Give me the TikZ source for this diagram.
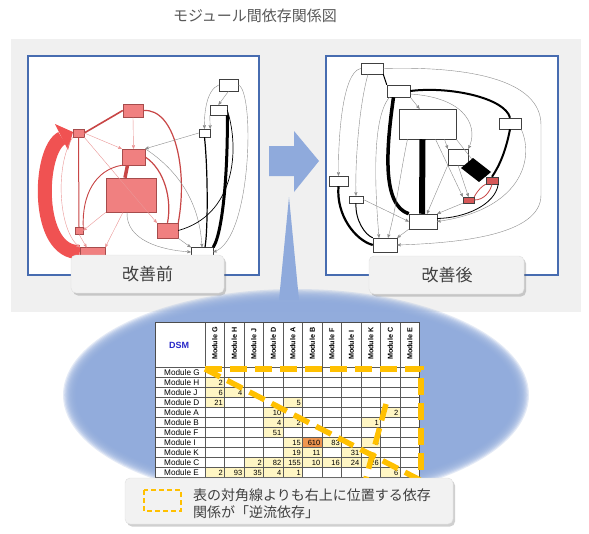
\documentclass[tikz,border=0pt]{standalone}
\usepackage{fontspec}
\setmainfont{Liberation Sans}
\newfontfamily\jpfont{Noto Sans CJK JP}
\usepackage{tikz}
\usetikzlibrary{arrows}
\definecolor{frameblue}{RGB}{71,108,176}
\definecolor{softblue}{RGB}{143,170,220}
\definecolor{panelgray}{RGB}{240,240,240}
\definecolor{boxgray}{RGB}{242,242,242}
\definecolor{titlegray}{RGB}{89,89,89}
\definecolor{textgray}{RGB}{64,64,64}
\definecolor{nodepink}{RGB}{240,128,128}
\definecolor{flowred}{RGB}{240,82,82}
\definecolor{edgered}{RGB}{200,70,70}
\definecolor{edgepink}{RGB}{235,150,150}
\definecolor{nodered}{RGB}{214,88,88}
\definecolor{dashyellow}{RGB}{255,192,0}
\definecolor{cellyellow}{RGB}{255,246,196}
\definecolor{cellorange}{RGB}{240,150,80}
\definecolor{dsmblue}{RGB}{40,40,200}
\tikzset{
    gnode/.style = {rectangle, inner sep=0pt, draw=black!75, line width=0.5pt},
    pink_node/.style = {gnode, fill=nodepink, draw=black!50!red!70},
    white_node/.style = {gnode, fill=white},
    red_node/.style = {gnode, fill=nodered},
    thin_edge/.style = {->, draw=black!45, line width=0.4pt},
    pink_edge/.style = {->, draw=edgepink, line width=0.4pt},
    red_edge/.style = {draw=edgered, line width=1.2pt},
    black_edge/.style = {draw=black, line width=1.2pt},
    flow_band/.style = {draw=flowred, line width=14pt},
    frame/.style = {draw=frameblue, line width=2.6pt, fill=white},
    tag/.style = {rounded corners=5pt, fill=boxgray, draw=black!12, line width=0.4pt},
    tag_shadow/.style = {rounded corners=5pt, fill=black!60, opacity=0.3},
    tag_text/.style = {font=\jpfont\fontsize{17pt}{20pt}\selectfont, text=textgray},
    grid_line/.style = {draw=black!65, line width=0.55pt},
    col_head/.style = {font=\bfseries\fontsize{7.2pt}{8pt}\selectfont, inner sep=0pt, rotate=90, anchor=west},
    row_head/.style = {font=\fontsize{8.2pt}{9pt}\selectfont, inner sep=0pt, anchor=west},
    cell/.style = {font=\fontsize{7.5pt}{8pt}\selectfont, inner sep=0pt, anchor=east},
    yellow_dash/.style = {draw=dashyellow, line width=5.5pt, dash pattern=on 17pt off 8pt}
}
\begin{document}
\begin{tikzpicture}[x=1pt, y=-1pt, >=stealth']
    \fill[white] (0,0) rectangle (589,533);
    \useasboundingbox (0,0) rectangle (589,533);

    \node[font=\jpfont\fontsize{15pt}{18pt}\selectfont, text=titlegray] (title) at (255,16) {モジュール間依存関係図};

    \fill[panelgray] (11,39) rectangle (581,312);
    \draw[frame] (28,56) rectangle (259,275);
    \draw[frame] (326,56) rectangle (558,275);

    \node[white_node, minimum width=19pt, minimum height=12pt] (lb1) at (228.5,85) {};
    \node[white_node, minimum width=17pt, minimum height=10pt] (lb2) at (218.5,110) {};
    \node[white_node, minimum width=11pt, minimum height=8pt] (lb3) at (204.5,133) {};
    \node[pink_node, minimum width=20pt, minimum height=13pt] (lF) at (133,110.5) {};
    \node[pink_node, minimum width=11pt, minimum height=8pt] (lE) at (78.5,133) {};
    \node[pink_node, minimum width=23pt, minimum height=16pt] (lM) at (133.5,157) {};
    \node[pink_node, minimum width=50pt, minimum height=34pt] (lA) at (131,195) {};
    \node[pink_node, minimum width=21pt, minimum height=15pt] (lD) at (167.5,230.5) {};
    \node[pink_node, minimum width=8pt, minimum height=7pt] (lS) at (79,230.5) {};
    \node[pink_node, minimum width=25pt, minimum height=9pt] (lB) at (92.5,252) {};
    \node[white_node, minimum width=22pt, minimum height=9pt] (lW) at (202,252) {};

    \draw[flow_band] (lB.west) .. controls (35,254) and (38,150) .. (62,138);
    \fill[flowred] (55,124) -- (73,132) -- (68,150) -- cycle;
    \draw[red_edge, line width=1.6pt] (lF.west) -- (lE.east);
    \draw[pink_edge] (lF.south) -- (lM.north);
    \draw[red_edge] (lF.east) .. controls (175,108) and (188,170) .. (lD.north east);
    \draw[pink_edge] (lE.east) -- (lM.north west);
    \draw[pink_edge] (lE.south east) -- (lD.north west);
    \draw[red_edge, line width=1pt] (lE.south) -- (lS.north);
    \draw[pink_edge] (lE.south west) .. controls (55,165) and (58,230) .. (lB.north west);
    \draw[red_edge, line width=3.5pt] ([xshift=-6pt]lM.south) -- ([xshift=-6pt]lA.north);
    \draw[red_edge] (lM.east) .. controls (165,170) and (172,200) .. (lD.north);
    \draw[red_edge, line width=0.9pt] (lM.south west) .. controls (95,170) and (82,195) .. (lS.north east);
    \draw[pink_edge] (lA.south west) -- (lS.east);
    \draw[pink_edge] ([xshift=-8pt]lA.south) -- (lB.north east);
    \draw[pink_edge] (lS.south) -- ([xshift=-6pt]lB.north);
    \draw[thin_edge] ([xshift=-4pt]lA.south) .. controls (126,240) and (160,250) .. (lW.west);
    \draw[thin_edge] (lD.south east) -- (lW.north west);
    \draw[thin_edge] (lM.north east) .. controls (185,175) and (200,210) .. (lW.north);
    \draw[thin_edge] (lb1.south) -- (lb2.north);
    \draw[thin_edge] (lb1.west) .. controls (206,90) and (204,115) .. (lb3.north);
    \draw[thin_edge] (lb1.east) .. controls (255,90) and (252,240) .. (lW.east);
    \draw[black_edge, line width=3pt] (lb2.south east) .. controls (228,160) and (224,230) .. (lW.north east);
    \draw[thin_edge] (lb2.south west) -- (lb3.north east);
    \draw[black_edge] (lb3.south) .. controls (208,170) and (208,230) .. ([xshift=3pt]lW.north);
    \draw[thin_edge] (lb3.west) -- (lM.north east);
    \draw[black_edge, line width=0.7pt] (lb2.east) .. controls (240,150) and (235,215) .. (lD.east);

    \node[white_node, minimum width=22pt, minimum height=11pt] (rn1) at (372,68.5) {};
    \node[white_node, minimum width=23pt, minimum height=12pt] (rn2) at (398.5,91) {};
    \node[white_node, minimum width=57pt, minimum height=30pt] (rA) at (427.5,124) {};
    \node[white_node, minimum width=22pt, minimum height=11pt] (rn3) at (510,123.5) {};
    \node[white_node, minimum width=20pt, minimum height=16pt] (rn4) at (458,157) {};
    \node[white_node, minimum width=19pt, minimum height=10pt] (rn5) at (338.5,181) {};
    \node[white_node, minimum width=14pt, minimum height=7pt] (rn6) at (356,199.5) {};
    \node[red_node, minimum width=12pt, minimum height=7pt] (rr1) at (492,180.5) {};
    \node[red_node, minimum width=11pt, minimum height=6pt] (rr2) at (468.5,200) {};
    \node[white_node, minimum width=28pt, minimum height=15pt] (rn7) at (423,221.5) {};
    \node[white_node, minimum width=24pt, minimum height=14pt] (rn8) at (385,245) {};

    \draw[black_edge, line width=1pt] (rn1.south east) -- (rn2.north west);
    \draw[thin_edge] (rn1.west) .. controls (342,72) and (338,140) .. (rn5.north);
    \draw[thin_edge] ([xshift=-4pt]rn1.south) .. controls (358,110) and (355,170) .. (rn6.north);
    \draw[thin_edge] (rn1.east) .. controls (470,66) and (541,80) .. (541,125) -- (541,195) .. controls (541,235) and (460,243) .. (rn8.east);
    \draw[black_edge, line width=2pt] (rn2.east) .. controls (450,86) and (505,98) .. (rn3.north);
    \draw[thin_edge] (rn2.south east) -- ([xshift=-8pt]rA.north);
    \draw[thin_edge] ([yshift=-3pt]rn2.east) .. controls (470,98) and (478,130) .. (rn4.north east);
    \draw[black_edge, line width=3.5pt] ([xshift=-5pt]rn2.south) .. controls (386,150) and (382,205) .. (rn7.north west);
    \draw[thin_edge] ([xshift=-9pt]rn2.south) .. controls (370,120) and (376,200) .. ([xshift=-6pt]rn8.north);
    \draw[black_edge, line width=6pt] ([xshift=-5pt]rA.south) -- ([xshift=-1pt]rn7.north);
    \draw[thin_edge] ([xshift=-20pt]rA.south) .. controls (400,175) and (396,210) .. ([xshift=3pt]rn8.north);
    \draw[thin_edge] ([xshift=17pt]rA.south) -- (rn4.north west);
    \draw[thin_edge] (rA.south east) -- (rr1.north west);
    \draw[thin_edge] ([xshift=8pt]rA.south) -- (rr2.north west);
    \draw[thin_edge] (rn4.south west) -- ([xshift=4pt]rn7.north);
    \draw[black_edge, line width=2pt] (rn3.south) .. controls (506,150) and (500,165) .. (rr1.north);
    \draw[thin_edge] (rn3.south east) .. controls (535,160) and (520,210) .. (rn7.east);
    \draw[black_edge, line width=2.2pt] (rn5.south) .. controls (336,215) and (355,240) .. (rn8.west);
    \draw[black_edge, line width=1pt] (rn6.south) .. controls (355,220) and (365,235) .. (rn8.north west);
    \draw[thin_edge] (rn6.east) -- (rn7.west);
    \draw[thin_edge] (rn4.south) -- (rr2.north);
    \draw[red_edge, line width=0.8pt] (rr2.north east) .. controls (478,190) and (482,186) .. (rr1.south west);
    \draw[red_edge, line width=0.8pt] (rr2.east) .. controls (484,200) and (490,192) .. (rr1.south);
    \draw[black_edge, line width=0.8pt] (rr1.south east) .. controls (495,205) and (465,218) .. ([yshift=3pt]rn7.east);
    \draw[thin_edge] (rr2.south west) -- (rn7.north east);
    \draw[thin_edge] (rn7.south west) -- (rn8.north east);
    \fill (461,168) -- (473,158) -- (491,172) -- (479,182) -- cycle;

    \fill[tag_shadow] (73,257.5) rectangle (226,295.5);
    \draw[tag] (71,255) rectangle (224,293);
    \node[tag_text] (before) at (147.5,274) {改善前};
    \fill[tag_shadow] (371,258.5) rectangle (526,296.5);
    \draw[tag] (369,256) rectangle (524,294);
    \node[tag_text] (after) at (447,275) {改善後};

    \fill[softblue] (269,146) -- (294,146) -- (294,131) -- (319,161) -- (294,192) -- (294,176) -- (269,176) -- cycle;
    \fill[softblue] (289,197) -- (299,300) -- (279,300) -- cycle;
    \foreach \k in {0,...,11}
        \fill[softblue, opacity=0.24] (296,395) circle[x radius={233-1.2*\k}, y radius={106-1.2*\k}];

    \fill[white] (155,322) rectangle (419.5,482);
    \foreach \r/\c/\v in {1/0/2, 2/0/6, 2/1/4, 3/0/21, 3/4/5, 4/3/10, 4/9/2, 5/3/4, 5/4/2, 5/8/1, 6/3/51, 7/4/15, 7/6/83, 7/8/6, 8/4/19, 8/5/11, 8/7/31, 9/2/2, 9/3/82, 9/4/155, 9/5/10, 9/6/16, 9/7/24, 9/8/26, 10/0/2, 10/1/93, 10/2/35, 10/3/4, 10/4/1, 10/9/6} {
        \fill[cellyellow] ({205+19.5*\c},{367+10*\r}) rectangle +(19.5,10);
        \node[cell] at ({223+19.5*\c},{372.5+10*\r}) {\v};
    }
    \fill[cellorange] ({205+19.5*5},{367+10*7}) rectangle +(19.5,10);
    \node[cell] (peak) at ({223+19.5*5},{372.5+10*7}) {610};
    \foreach \i in {0,...,11}
        \draw[grid_line] ({205+19.5*\i},322) -- ({205+19.5*\i},482);
    \foreach \j in {0,...,11}
        \draw[grid_line] (155,{367+10*\j}) -- (419.5,{367+10*\j});
    \draw[black!70, line width=0.8pt] (155,322) rectangle (419.5,482);
    \node[font=\bfseries\fontsize{9pt}{10pt}\selectfont, text=dsmblue] (dsm) at (179,345) {DSM};
    \foreach \name [count=\i from 0] in {G,H,J,D,A,B,F,I,K,C,E} {
        \node[col_head] (h\name) at ({214.75+19.5*\i},360) {Module \name};
        \node[row_head] (r\name) at (164,{372.5+10*\i}) {Module \name};
    }

    \draw[yellow_dash] (205,369) -- (421,369) -- (421,482);
    \draw[yellow_dash] (205,369) -- (420,480);
    \draw[yellow_dash] (386,404) -- (365,482);

    \fill[tag_shadow] (127,480.5) rectangle (455,526.5);
    \draw[tag] (125,478) rectangle (453,524);
    \draw[dashyellow, line width=1.8pt, dash pattern=on 5pt off 3pt] (144,490) rectangle (181,511);
    \node[anchor=west, align=left, inner sep=0pt, font=\jpfont\fontsize{14pt}{17pt}\selectfont, text=textgray] (note) at (193,503.5) {表の対角線よりも右上に位置する依存\\関係が「逆流依存」};
\end{tikzpicture}
\end{document}
